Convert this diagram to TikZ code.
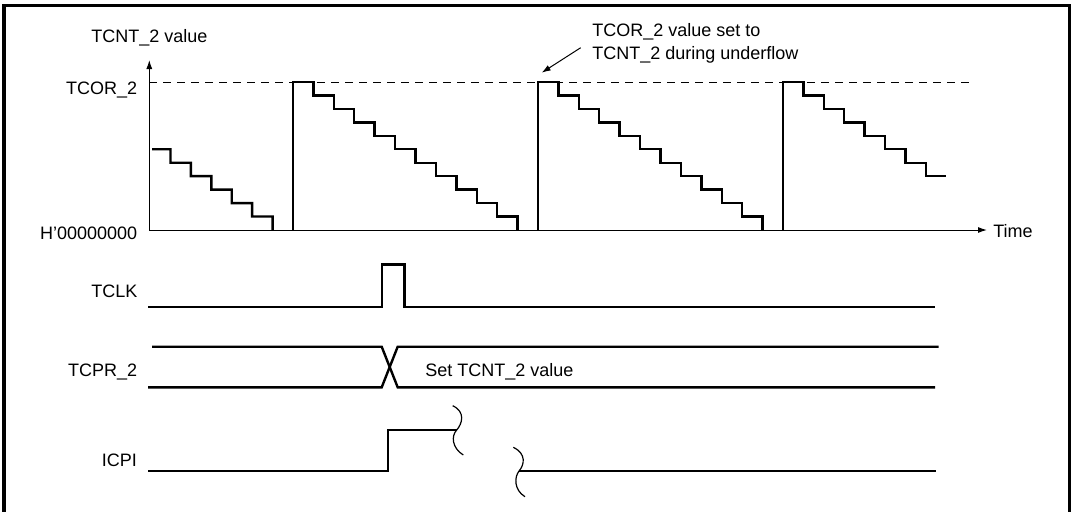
\documentclass[tikz,border=0pt]{standalone}
\usepackage{fontspec}
\setmainfont{Liberation Sans}
\usetikzlibrary{arrows.meta,positioning}

\begin{document}
\begin{tikzpicture}[x=0.5pt, y=-0.5pt,
      lbl/.style={inner sep=0pt, font=\fontsize{9}{11}\selectfont},
      sig/.style={line width=1.2pt},
      ax/.style={line width=0.5pt},
      brk/.style={line width=0.6pt},
      >={Latex[length=4.5pt,width=3pt]}]
    \useasboundingbox (0,0) rectangle (1073,511);
    % frame (open at the bottom)
    \draw[line width=1.5pt] (4,520) -- (4,5) -- (1069.5,5) -- (1069.5,520);

    % counter axes
    \coordinate (org) at (149.3,230);
    \coordinate (ytop) at (149.3,60);
    \coordinate (xend) at (987,230);
    \coordinate (tcor) at (149.3,82);
    \draw[ax,->] (org) -- (ytop);
    \draw[ax,->] (org) -- (xend);
    \draw[ax,dashed,dash pattern=on 4pt off 3pt] (tcor) -- (972,82);
    \node[lbl, anchor=base west] (yname) at (91,42) {TCNT\_2 value};
    \node[lbl, anchor=base east] (tcorl) at (137.5,94) {TCOR\_2};
    \node[lbl, anchor=base east] (zerol) at (137.5,239) {H'00000000};
    \node[lbl, anchor=base west] (timel) at (993,237.5) {Time};

    % TCNT_2 count down, reloaded from TCOR_2
    \draw[sig] (152,149.25)
      \foreach \k [evaluate=\k as \xa using {48+(\k+1)*20.417},
                   evaluate=\k as \ya using {82+\k*13.45},
                   evaluate=\k as \yb using {82+(\k+1)*13.45}] in {5,...,10}
        { -- (\xa,\ya) -- (\xa,\yb) };
    \foreach \X in {293,538} {
      \draw[sig] (\X,230) -- (\X,82)
        \foreach \k [evaluate=\k as \xa using {\X+(\k+1)*20.417},
                     evaluate=\k as \ya using {82+\k*13.45},
                     evaluate=\k as \yb using {82+(\k+1)*13.45}] in {0,...,10}
          { -- (\xa,\ya) -- (\xa,\yb) };
    }
    \draw[sig] (783,230) -- (783,82)
      \foreach \k [evaluate=\k as \xa using {783+(\k+1)*20.417},
                   evaluate=\k as \ya using {82+\k*13.45},
                   evaluate=\k as \yb using {82+(\k+1)*13.45}] in {0,...,6}
        { -- (\xa,\ya) -- (\xa,\yb) }
      -- ++(20.417,0);

    % note on the reload
    \node[lbl, anchor=base west] (note1) at (592,36.7) {TCOR\_2 value set to};
    \node[lbl, anchor=base west] (note2) at (592,59) {TCNT\_2 during underflow};
    \coordinate (noteS) at (580.7,47.7);
    \coordinate (peak) at (541.7,72.7);
    \draw[ax,->] (noteS) -- (peak);

    % TCLK
    \node[lbl, anchor=base east] (tclkl) at (137.7,297.7) {TCLK};
    \draw[sig] (148,306.7) -- (381.7,306.7) -- (381.7,264.3) -- (404.3,264.3)
      -- (404.3,306.7) -- (935,306.7);

    % TCPR_2
    \node[lbl, anchor=base east] (tcprl) at (137.5,376) {TCPR\_2};
    \draw[sig] (152,346.7) -- (381.7,346.7) -- (397.7,387.3) -- (935,387.3);
    \draw[sig] (148,387.3) -- (381.7,387.3) -- (397.7,346.7) -- (938.5,346.7);
    \node[lbl, anchor=base west] (setl) at (425,376) {Set TCNT\_2 value};

    % ICPI with break marks
    \node[lbl, anchor=base east] (icpil) at (137.3,466.7) {ICPI};
    \coordinate (brkA) at (456.7,430);
    \coordinate (brkB) at (519.3,470.7);
    \draw[sig] (148,470.7) -- (388,470.7) -- (388,430) -- (brkA);
    \draw[sig] (brkB) -- (936,470.7);
    \draw[brk] (452.7,405.7) .. controls (466,412) and (462,424) .. (brkA)
      .. controls (451,436) and (452,448) .. (463.3,455);
    \draw[brk] (513.3,447.3) .. controls (527,454) and (524,465) .. (brkB)
      .. controls (514,477) and (514,490) .. (525,496.7);
  \end{tikzpicture}
\end{document}
